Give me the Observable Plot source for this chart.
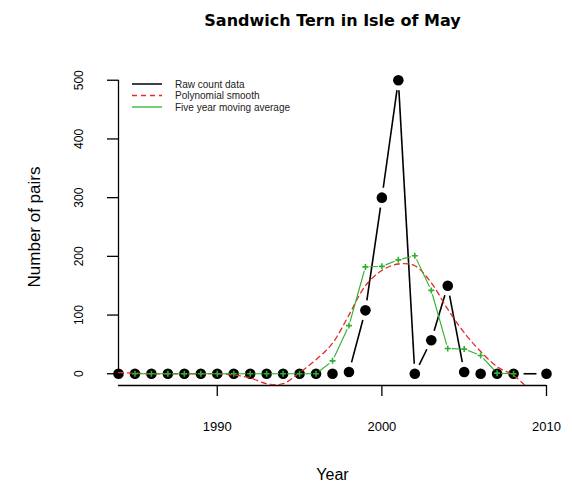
<!DOCTYPE html>
<html><head><meta charset="utf-8">
<script src="https://cdn.jsdelivr.net/npm/d3@7"></script>
<script src="https://cdn.jsdelivr.net/npm/@observablehq/plot@0.6"></script>
<style>body{margin:0;background:#fff} svg{display:block}</style>
</head><body><div id="chart"></div>
<script>
const rawYears = [1984,1985,1986,1987,1988,1989,1990,1991,1992,1993,1994,1995,1996,1997,1998,1999,2000,2001,2002,2003,2004,2005,2006,2007,2008,2010];
const rawCounts = [0,0,0,0,0,0,0,0,0,0,0,0,0,0,3,108,300,500,0,57,150,3,0,0,0,0];
const maYears = [1985,1986,1987,1988,1989,1990,1991,1992,1993,1994,1995,1996,1997,1998,1999,2000,2001,2002,2003,2004,2005,2006,2007,2008];
const maValues = [0,0,0,0,0,0,0,0,0,0,0,0,22,82,182,183,194,201,142,43,42,31,1,0];
const polyYears = [1984,1985,1986,1987,1988,1989,1990,1991,1992,1993,1994,1995,1996,1997,1998,1999,2000,2001,2002,2003,2004,2005,2006,2007,2008,2009,2010];
const polyValues = [2,1,0,0,0,0,0,-2,-7,-17,-17,2,24,52,100,150,176,187,184,155,110,70,38,12,-3,-30,-80];
const xTicks = [1990, 2000, 2010];
const yTicks = [0, 100, 200, 300, 400, 500];
const titleText = "Sandwich Tern in Isle of May";
const xLabel = "Year";
const yLabel = "Number of pairs";
const legendLabels = ["Raw count data", "Polynomial smooth", "Five year moving average"];

const colRaw = "#000000", colPoly = "#e02a2a", colMA = "#2eb02e";

const raw = rawYears.map((year, i) => ({year, v: rawCounts[i]}));
const ma = maYears.map((year, i) => ({year, v: maValues[i]}));
const poly = polyYears.map((year, i) => ({year, v: polyValues[i]}));
const segs = a => d3.pairs(a).map(([p, q]) => ({x1: p.year, y1: p.v, x2: q.year, y2: q.v}));

const plusSymbol = {draw(ctx, size) {
  const r = Math.sqrt(size / Math.PI);
  ctx.moveTo(-r, 0); ctx.lineTo(r, 0); ctx.moveTo(0, -r); ctx.lineTo(0, r);
}};

const legendMark = (index, scales, values, dims) => {
  const g = d3.create("svg:g");
  const items = [
    {label: legendLabels[0], stroke: colRaw, dash: "none", w: 1.5},
    {label: legendLabels[1], stroke: colPoly, dash: "5,4", w: 1.4},
    {label: legendLabels[2], stroke: colMA, dash: "none", w: 1.3}
  ];
  const x0 = dims.marginLeft + 14, x1 = x0 + 30, tx = x1 + 13, y0 = dims.marginTop + 16, dyRow = 11.5;
  items.forEach((it, i) => {
    const y = y0 + i * dyRow;
    g.append("line").attr("x1", x0).attr("x2", x1).attr("y1", y).attr("y2", y)
      .attr("stroke", it.stroke).attr("stroke-width", it.w).attr("stroke-dasharray", it.dash);
    g.append("text").attr("x", tx).attr("y", y).attr("dy", "0.35em")
      .attr("text-anchor", "start")
      .attr("font-size", 10).attr("font-family", "Liberation Sans, Arial, sans-serif")
      .attr("fill", "#222").text(it.label);
  });
  return g.node();
};

const chart = Plot.plot({
  width: 572,
  height: 489,
  marginLeft: 118,
  marginRight: 26,
  marginTop: 68,
  marginBottom: 104,
  style: {fontFamily: "Liberation Sans, Arial, sans-serif", color: "#000", background: "#fff"},
  x: {domain: [1984, 2010]},
  y: {domain: [-20, 520]},
  marks: [
    Plot.ruleX([1984], {y1: yTicks[0], y2: yTicks[yTicks.length - 1], stroke: "#000", strokeWidth: 1.3}),
    Plot.ruleY([-20], {x1: 1984, x2: 2010, stroke: "#000", strokeWidth: 1.3}),
    Plot.axisY(yTicks, {anchor: "left", tickSize: 11, tickFormat: () => "", label: null, strokeWidth: 1.3}),
    Plot.text(yTicks, {x: 1984, y: d => d, text: d => String(d), rotate: -90, dx: -39, fontSize: 12, textAnchor: "middle", lineAnchor: "middle"}),
    Plot.axisX(xTicks, {anchor: "bottom", tickSize: 11, tickPadding: 25, fontSize: 13, label: null, strokeWidth: 1.3, tickFormat: d => String(d)}),
    Plot.text([xLabel], {frameAnchor: "bottom", dy: 89, fontSize: 16, lineAnchor: "middle"}),
    Plot.text([yLabel], {frameAnchor: "left", dx: -84, rotate: -90, fontSize: 17, lineAnchor: "middle", textAnchor: "middle"}),
    Plot.text([titleText], {frameAnchor: "top", dy: -48, fontSize: 16, fontWeight: "bold", fontFamily: "DejaVu Sans", lineAnchor: "middle"}),
    // raw count data (type "b")
    Plot.arrow(segs(raw), {x1: "x1", y1: "y1", x2: "x2", y2: "y2", headLength: 0, insetStart: 10, insetEnd: 10, stroke: colRaw, strokeWidth: 1.6, strokeLinecap: "butt"}),
    Plot.dot(raw, {x: "year", y: "v", r: 5.3, fill: colRaw}),
    // polynomial smooth
    Plot.line(poly, {x: "year", y: "v", curve: "catmull-rom", stroke: colPoly, strokeWidth: 1.3, strokeDasharray: "5,4", clip: true}),
    // five-year moving average (type "b")
    Plot.arrow(segs(ma), {x1: "x1", y1: "y1", x2: "x2", y2: "y2", headLength: 0, insetStart: 4, insetEnd: 4, stroke: colMA, strokeWidth: 1.1, strokeLinecap: "butt"}),
    Plot.dot(ma, {x: "year", y: "v", r: 3, symbol: plusSymbol, stroke: colMA, strokeWidth: 1.6, fill: "none"}),
    legendMark
  ]
});
document.getElementById("chart").append(chart);
</script>
</body></html>
